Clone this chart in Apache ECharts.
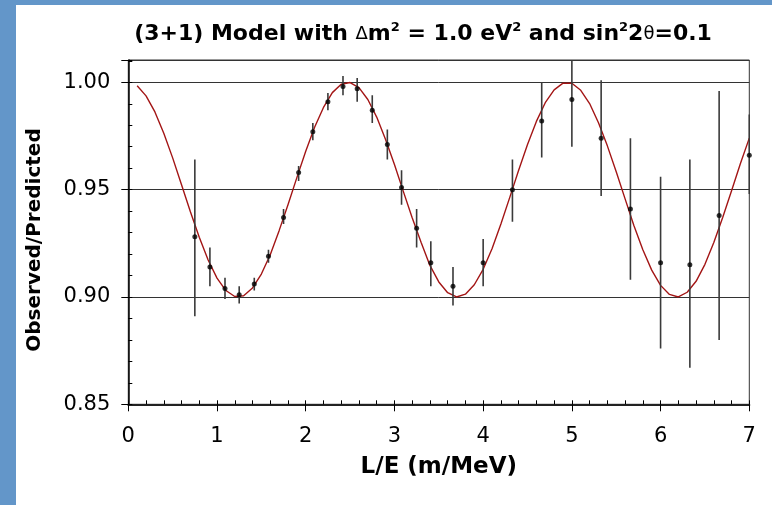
<!DOCTYPE html>
<html>
<head>
<meta charset="utf-8">
<script src="https://cdn.jsdelivr.net/npm/echarts@6/dist/echarts.min.js"></script>
<style>html,body{margin:0;padding:0;background:#fff;}#c{width:772px;height:505px;}</style>
</head>
<body>
<div id="c"></div>
<script>
// Data points (L/E in m/MeV) with error bars
const pointX   = [0.75, 0.92, 1.09, 1.25, 1.42, 1.58, 1.75, 1.92, 2.08, 2.25, 2.42, 2.58, 2.75, 2.92, 3.08, 3.25, 3.41, 3.66, 4.00, 4.33, 4.66, 5.00, 5.33, 5.66, 6.00, 6.33, 6.66, 7.00];
const pointY   = [0.928, 0.914, 0.904, 0.901, 0.906, 0.919, 0.937, 0.958, 0.977, 0.991, 0.998, 0.997, 0.987, 0.971, 0.951, 0.932, 0.916, 0.905, 0.916, 0.950, 0.982, 0.992, 0.974, 0.941, 0.916, 0.915, 0.938, 0.966];
const errLow   = [0.891, 0.905, 0.899, 0.897, 0.903, 0.916, 0.934, 0.954, 0.973, 0.987, 0.994, 0.991, 0.981, 0.964, 0.943, 0.923, 0.905, 0.896, 0.905, 0.935, 0.965, 0.970, 0.947, 0.908, 0.876, 0.867, 0.880, 0.948];
const errHigh  = [0.964, 0.923, 0.909, 0.905, 0.909, 0.922, 0.941, 0.961, 0.981, 0.995, 1.003, 1.002, 0.994, 0.978, 0.959, 0.941, 0.926, 0.914, 0.927, 0.964, 1.000, 1.014, 1.001, 0.974, 0.956, 0.964, 0.996, 0.985];

// Model curve
const curveX = [0.1,0.2,0.3,0.4,0.5,0.6,0.7,0.8,0.9,1.0,1.1,1.2,1.3,1.4,1.5,1.6,1.7,1.8,1.9,2.0,2.1,2.2,2.3,2.4,2.5,2.6,2.7,2.8,2.9,3.0,3.1,3.2,3.3,3.4,3.5,3.6,3.7,3.8,3.9,4.0,4.1,4.2,4.3,4.4,4.5,4.6,4.7,4.8,4.9,5.0,5.1,5.2,5.3,5.4,5.5,5.6,5.7,5.8,5.9,6.0,6.1,6.2,6.3,6.4,6.5,6.6,6.7,6.8,6.9,7.0];
const curveY = [0.9984,0.9937,0.9862,0.9763,0.9648,0.9523,0.9397,0.9278,0.9172,0.9088,0.9030,0.9002,0.9006,0.9042,0.9107,0.9197,0.9309,0.9430,0.9556,0.9679,0.9791,0.9883,0.9952,0.9991,0.9999,0.9975,0.9920,0.9838,0.9734,0.9617,0.9492,0.9369,0.9255,0.9147,0.9070,0.9020,0.9000,0.9013,0.9057,0.9129,0.9225,0.9340,0.9464,0.9590,0.9710,0.9818,0.9905,0.9965,0.9996,0.9996,0.9963,0.9901,0.9812,0.9704,0.9583,0.9457,0.9332,0.9220,0.9125,0.9054,0.9012,0.9000,0.9022,0.9073,0.9152,0.9254,0.9370,0.9495,0.9622,0.9740];

const xTicks = [0, 1, 2, 3, 4, 5, 6, 7];
const yTicks = [0.85, 0.90, 0.95, 1.00];

const FONT = '"DejaVu Sans", Verdana, sans-serif';
const chart = echarts.init(document.getElementById('c'), null, {renderer: 'canvas'});

const points = pointX.map((x, i) => [x, pointY[i]]);
const bars = pointX.map((x, i) => [x, errLow[i], errHigh[i]]);
const curve = curveX.map((x, i) => [x, curveY[i]]);

const yFmt = v => {
  const hit = yTicks.find(t => Math.abs(t - v) < 1e-6);
  return hit !== undefined ? hit.toFixed(2) : '';
};
const xFmt = v => {
  const hit = xTicks.find(t => Math.abs(t - v) < 1e-6);
  return hit !== undefined ? String(hit) : '';
};

chart.setOption({
  animation: false,
  backgroundColor: '#fff',
  graphic: [
    {type: 'rect', shape: {x: 0, y: 0, width: 16, height: 505}, style: {fill: '#6396C9'}, z: 100},
    {type: 'rect', shape: {x: 0, y: 0, width: 772, height: 5}, style: {fill: '#6396C9'}, z: 100},
    {type: 'text', x: 35, y: 240, rotation: Math.PI / 2, z: 100,
     style: {text: 'Observed/Predicted', font: 'bold 20px "DejaVu Sans", Verdana, sans-serif',
             fill: '#000', textAlign: 'center', textVerticalAlign: 'middle'}}
  ],
  title: {
    text: '(3+1) Model with {sym|Δ}m{sup|2} = 1.0 eV{sup|2} and sin{sup|2}2{sym|θ}=0.1',
    left: 418, top: 16, textAlign: 'center',
    textStyle: {
      fontFamily: FONT, fontWeight: 'bold', fontSize: 22, color: '#000', lineHeight: 26,
      rich: {
        sup: {fontFamily: FONT, fontWeight: 'bold', fontSize: 13, lineHeight: 26, verticalAlign: 'top', padding: [0, 0, 10, 0], color: '#000'},
        sym: {fontFamily: FONT, fontWeight: 'normal', fontSize: 18, lineHeight: 26, color: '#000'}
      }
    }
  },
  grid: {left: 128.3, right: 22.7, top: 60, bottom: 100.7, show: true, borderColor: '#333', borderWidth: 1, backgroundColor: 'transparent'},
  xAxis: [
    {
      type: 'value', min: 0, max: 7, interval: 1,
      name: 'L/E (m/MeV)', nameLocation: 'middle', nameGap: 51,
      nameTextStyle: {fontFamily: FONT, fontWeight: 'bold', fontSize: 23, color: '#000'},
      axisLine: {show: true, lineStyle: {color: '#222', width: 2}},
      axisTick: {show: true, inside: false, length: 7, lineStyle: {color: '#000', width: 1}},
      axisLabel: {show: true, margin: 22, fontFamily: FONT, fontSize: 21, color: '#000', formatter: xFmt},
      splitLine: {show: false}
    },
    {
      type: 'value', min: 0, max: 7, interval: 1, position: 'bottom',
      axisLine: {show: false},
      axisTick: {show: true, inside: true, length: 4, lineStyle: {color: '#000', width: 1}},
      minorTick: {show: true, splitNumber: 5, length: 4, lineStyle: {color: '#000', width: 1}},
      axisLabel: {show: false}, splitLine: {show: false}
    }
  ],
  yAxis: [
    {
      type: 'value', min: 0.85, max: 1.0104, interval: 0.05,
      axisLine: {show: true, lineStyle: {color: '#000', width: 1.5}},
      axisTick: {show: true, inside: false, length: 7, lineStyle: {color: '#000', width: 1}},
      axisLabel: {show: true, margin: 18, fontFamily: FONT, fontSize: 21, color: '#000', formatter: yFmt},
      splitLine: {show: true, lineStyle: {color: '#333', width: 1}}
    },
    {
      type: 'value', min: 0.85, max: 1.0104, interval: 0.05, position: 'left',
      axisLine: {show: false},
      axisTick: {show: true, inside: true, length: 4, lineStyle: {color: '#000', width: 1}},
      minorTick: {show: true, splitNumber: 5, length: 4, lineStyle: {color: '#000', width: 1}},
      axisLabel: {show: false}, splitLine: {show: false}
    }
  ],
  series: [
    {
      type: 'line', data: curve, xAxisIndex: 0, yAxisIndex: 0,
      showSymbol: false, symbol: 'none', smooth: false,
      lineStyle: {color: '#A31515', width: 1.4}, z: 3, clip: true
    },
    {
      type: 'custom', data: bars, xAxisIndex: 0, yAxisIndex: 0, clip: true, z: 4,
      renderItem: (params, api) => {
        const top = api.coord([api.value(0), api.value(2)]);
        const bot = api.coord([api.value(0), api.value(1)]);
        return {type: 'line', shape: {x1: top[0], y1: top[1], x2: bot[0], y2: bot[1]},
                style: {stroke: '#3a3a3a', lineWidth: 1.6}};
      },
      encode: {x: 0, y: [1, 2]}
    },
    {
      type: 'scatter', data: points, xAxisIndex: 0, yAxisIndex: 0,
      symbol: 'circle', symbolSize: 5, itemStyle: {color: '#000'}, z: 5, clip: false
    }
  ]
});
</script>
</body>
</html>
